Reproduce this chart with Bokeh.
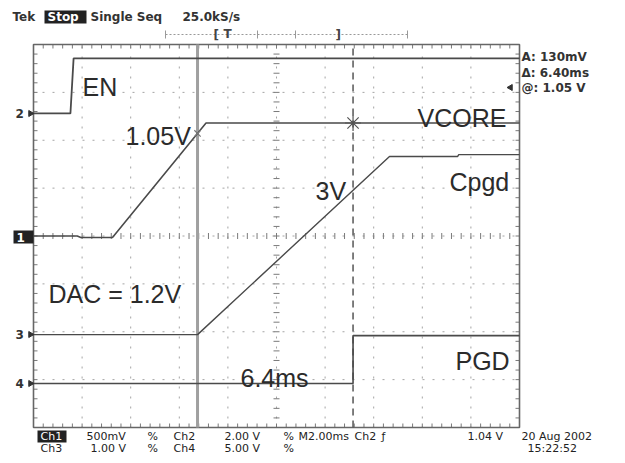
import numpy as np
from bokeh.plotting import figure
from bokeh.models import Range1d
from bokeh.core.properties import value
from bokeh.embed import file_html
from bokeh.resources import INLINE

# ---------------- data (time in ms, voltage in V) ----------------
en_t = [0.0, 1.52, 1.65, 20.0]
en_v = [0.0, 0.0, 2.3, 2.3]
vcore_t = [0.0, 1.8, 1.95, 3.25, 7.1, 20.0]
vcore_v = [0.0, 0.0, -0.015, -0.015, 1.18, 1.18]
cpgd_t = [0.0, 6.75, 14.65, 17.45, 17.5, 20.0]
cpgd_v = [0.0, 0.0, 3.72, 3.72, 3.76, 3.76]
pgd_t = [0.0, 13.15, 13.15, 20.0]
pgd_v = [0.0, 0.0, 5.0, 5.0]

# channel volts/div and ground position (divisions from screen centre)
ch_scale = {"EN": 2.0, "VCORE": 0.5, "Cpgd": 1.0, "PGD": 5.0}
ch_ground = {"EN": 2.56, "VCORE": 0.0, "Cpgd": -2.06, "PGD": -3.08}

cursor_t = [6.75, 13.15]

annot_text = ["EN", "1.05V", "VCORE", "Cpgd", "3V", "DAC = 1.2V", "6.4ms", "PGD"]

# ---------------- pixel <-> data helpers ----------------
X0, XS = 33.0, 24.3      # x of t=0, px per ms
Y0, YS = 235.5, 47.875   # y of centre, px per division
W, H = 617, 455


def X(px):
    return (px - X0) / XS


def Y(py):
    return (Y0 - py) / YS


def to_div(name, v):
    return [ch_ground[name] + vv / ch_scale[name] for vv in v]


p = figure(width=W, height=H, x_range=Range1d(X(0), X(W)),
           y_range=Range1d(Y(H), Y(0)), output_backend="svg",
           toolbar_location=None, x_axis_type=None, y_axis_type=None,
           min_border=0)
p.outline_line_color = None
p.background_fill_color = "white"
p.border_fill_color = "white"

GRID = "#a4a4a4"
# division lines (dotted)
vt = [2.0 * k for k in range(1, 10)]
p.multi_line(xs=[[t, t] for t in vt], ys=[[-4, 4] for _ in vt],
             line_color=GRID, line_width=1, line_dash="2 8", line_dash_offset=1)
hd = [float(k) for k in range(-3, 4)]
p.multi_line(xs=[[0, 20] for _ in hd], ys=[[d, d] for d in hd],
             line_color=GRID, line_width=1, line_dash="2 8", line_dash_offset=1)

# tick marks: frame edges (inward) and centre lines
tt = np.arange(0.0, 20.001, 0.4)
dd = np.arange(-4.0, 4.001, 0.2)
TK = "#7a7a7a"
p.segment(x0=tt, y0=4.0, x1=tt, y1=4.0 - 4 / YS, line_color=TK)
p.segment(x0=tt, y0=-4.0, x1=tt, y1=-4.0 + 4 / YS, line_color=TK)
p.segment(x0=0.0, y0=dd, x1=4 / XS, y1=dd, line_color=TK)
p.segment(x0=20.0, y0=dd, x1=20 - 4 / XS, y1=dd, line_color=TK)
p.segment(x0=tt, y0=-3 / YS, x1=tt, y1=3 / YS, line_color=TK)
p.segment(x0=10 - 3 / XS, y0=dd, x1=10 + 3 / XS, y1=dd, line_color=TK)

# frame
p.quad(left=0, right=20, bottom=-4, top=4, fill_color=None,
       line_color="#666666", line_width=1.6)

# cursors
p.segment(x0=cursor_t[0], y0=-4, x1=cursor_t[0], y1=4, line_color="#a0a0a0", line_width=3)
p.segment(x0=cursor_t[1], y0=-4, x1=cursor_t[1], y1=4, line_color="#555555",
          line_width=1.5, line_dash="7 5")

# traces
TR = "#4a4a4a"
p.line(en_t, to_div("EN", en_v), line_color=TR, line_width=1.8)
p.line(vcore_t, to_div("VCORE", vcore_v), line_color=TR, line_width=1.6)
p.line(cpgd_t, to_div("Cpgd", cpgd_v), line_color=TR, line_width=1.4)
p.line(pgd_t, to_div("PGD", pgd_v), line_color=TR, line_width=1.6)

# cursor crossing marks on VCORE
vc_div = to_div("VCORE", vcore_v)
y1 = float(np.interp(cursor_t[0], vcore_t, vc_div))
y2 = float(np.interp(cursor_t[1], vcore_t, vc_div))
p.scatter([cursor_t[0]], [y1], marker="x", size=9, line_color="#777777", line_width=1.2)
p.scatter([cursor_t[1]], [y2], marker="asterisk", size=16, line_color="#555555", line_width=1.2)

# big annotations
ann_px = [(82, 86), (125, 135), (417, 117), (449, 181), (315, 190), (48, 293), (240, 377), (455, 360)]
p.text(x=[X(a[0]) for a in ann_px], y=[Y(a[1]) for a in ann_px], text=annot_text,
       text_font=value("Liberation Sans"), text_font_size="25px",
       text_color="#2b2b2b", text_baseline="alphabetic", text_align="left")

SM = dict(text_font=value("DejaVu Sans"), text_font_size="12px", text_font_style="bold",
          text_baseline="middle", text_align="left")
FT = dict(text_font=value("DejaVu Sans"), text_font_size="11px", text_font_style="normal",
          text_baseline="middle", text_align="left")

# header
hdr = [("Tek", 12, 16), ("Single Seq", 90, 16), ("25.0kS/s", 182, 16)]
p.text(x=[X(h[1]) for h in hdr], y=[Y(h[2]) for h in hdr], text=[h[0] for h in hdr],
       text_color="#333333", **SM)
# inverted boxes: Stop, Ch1 (footer), ch1 marker
boxes = [(44, 86, 10, 23), (37, 66, 430, 442), (13, 33, 230, 243)]
p.quad(left=[X(b[0]) for b in boxes], right=[X(b[1]) for b in boxes],
       bottom=[Y(b[3]) for b in boxes], top=[Y(b[2]) for b in boxes],
       fill_color="#222222", line_color=None)
p.text(x=[X(47)], y=[Y(16.5)], text=["Stop"], text_color="white", **SM)
p.text(x=[X(40)], y=[Y(436)], text=["Ch1"], text_color="white", **FT)
p.text(x=[X(16)], y=[Y(236.5)], text=["1"], text_color="white", **SM)

# record bar
p.segment(x0=X(165), y0=Y(34), x1=X(407), y1=Y(34), line_color="#999999", line_dash="2 2")
rt = [X(165), X(257), X(295), X(407)]
p.segment(x0=rt, y0=Y(30), x1=rt, y1=Y(38), line_color="#999999")
brk = [("[", 213, 34), ("T", 223, 33), ("]", 335, 34)]
p.text(x=[X(b[1]) for b in brk], y=[Y(b[2]) for b in brk], text=[b[0] for b in brk],
       text_color="#444444", **SM)

# right readouts
rr = [("A: 130mV", 521, 56), ("\u0394: 6.40ms", 521, 72), ("@: 1.05 V", 521, 87)]
p.text(x=[X(r[1]) for r in rr], y=[Y(r[2]) for r in rr], text=[r[0] for r in rr],
       text_color="#333333", **SM)
p.scatter([X(510)], [Y(87)], marker="triangle", size=6, angle=np.pi / 2,
          fill_color="#333333", line_color="#333333")

# left channel markers
lm = [("2", 15, 113), ("3", 15, 334), ("4", 15, 383)]
p.text(x=[X(m[1]) for m in lm], y=[Y(m[2]) for m in lm], text=[m[0] for m in lm],
       text_color="#333333", **SM)
p.scatter([X(30)] * 3, [Y(m[2]) for m in lm], marker="triangle", size=6, angle=-np.pi / 2,
          fill_color="#333333", line_color="#333333")

# footer
R1, R2 = 436, 448
ft = [("500mV", 86, R1), ("%", 147, R1), ("Ch2", 173, R1), ("2.00 V", 224, R1),
      ("%", 283, R1), ("M2.00ms", 298, R1), ("Ch2", 354, R1), ("\u0192", 381, R1),
      ("1.04 V", 467, R1), ("20 Aug 2002", 521, R1),
      ("Ch3", 40, R2), ("1.00 V", 90, R2), ("%", 147, R2), ("Ch4", 173, R2),
      ("5.00 V", 224, R2), ("%", 283, R2), ("15:22:52", 527, R2)]
p.text(x=[X(f[1]) for f in ft], y=[Y(f[2]) for f in ft], text=[f[0] for f in ft],
       text_color="#222222", **FT)

open("out.html", "w").write(file_html(p, INLINE))
